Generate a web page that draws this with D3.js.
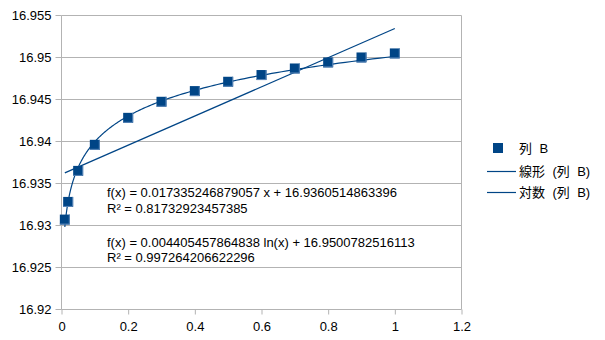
<!DOCTYPE html>
<html>
<head>
<meta charset="utf-8">
<script src="https://cdn.jsdelivr.net/npm/d3@7/dist/d3.min.js"></script>
<style>
  html, body { margin: 0; padding: 0; background: #fff; }
  svg { display: block; }
  text { font-family: "Liberation Sans", Arial, sans-serif; fill: #000; }
  .cjk { font-family: "Liberation Sans", "Noto Sans CJK JP", sans-serif; word-spacing: 3.8px; }
</style>
</head>
<body>
<svg id="chart" width="605" height="340"></svg>
<script>
// Measured series (列 B)
const xValues = [0.01, 0.02, 0.05, 0.1, 0.2, 0.3, 0.4, 0.5, 0.6, 0.7, 0.8, 0.9, 1.0];
const yValues = [16.93067, 16.93277, 16.93646, 16.93956, 16.94277, 16.94468, 16.94595,
                 16.94706, 16.94786, 16.94864, 16.94936, 16.94995, 16.95043];

// Trend line coefficients (slope / factor, intercept)
const linearCoef = [0.017335246879057, 16.9360514863396];
const logCoef = [0.004405457864838, 16.9500782516113];

// Axis ticks
const xTicks = [0, 0.2, 0.4, 0.6, 0.8, 1, 1.2];
const yTicks = [16.92, 16.925, 16.93, 16.935, 16.94, 16.945, 16.95, 16.955];

// Text
const eqLabels = [
  "f(x) = 0.017335246879057 x + 16.9360514863396",
  "R² = 0.81732923457385",
  "f(x) = 0.004405457864838 ln(x) + 16.9500782516113",
  "R² = 0.997264206622296"
];
const legendLabels = ["列 B", "線形 (列 B)", "対数 (列 B)"];

const color = "#004586";
const gridColor = "#b3b3b3";

const svg = d3.select("#chart");
const plot = { left: 61.5, right: 461.5, top: 15, bottom: 309.3 };

const x = d3.scaleLinear().domain([0, 1.2]).range([plot.left, plot.right]);
const y = d3.scaleLinear().domain([16.92, 16.955]).range([plot.bottom, plot.top]);

// Horizontal grid lines with left tick marks
const yAxis = d3.axisLeft(y).tickValues(yTicks).tickSize(6).tickPadding(4)
  .tickFormat(d => d3.format("")(+d.toFixed(3)));
const gy = svg.append("g").attr("transform", `translate(${plot.left},0)`).call(yAxis);
gy.select(".domain").remove();
gy.selectAll(".tick line").attr("stroke", gridColor);
gy.selectAll(".tick text").style("font-size", "13px").attr("fill", "#000").attr("dy", "0.35em");

svg.append("g").selectAll("line").data(yTicks).join("line")
  .attr("x1", plot.left).attr("x2", plot.right)
  .attr("y1", d => Math.round(y(d)) + 0.5).attr("y2", d => Math.round(y(d)) + 0.5)
  .attr("stroke", gridColor).attr("stroke-width", 1);
gy.selectAll(".tick").attr("transform", d => `translate(0,${Math.round(y(d)) + 0.5})`);

// Bottom axis tick marks and labels
const xAxis = d3.axisBottom(x).tickValues(xTicks).tickSize(5).tickPadding(7)
  .tickFormat(d3.format(""));
const gx = svg.append("g").attr("transform", `translate(0,${Math.round(plot.bottom) + 0.5})`).call(xAxis);
gx.select(".domain").remove();
gx.selectAll(".tick line").attr("stroke", gridColor);
gx.selectAll(".tick text").style("font-size", "13px").attr("fill", "#000");

// Left and right borders of the plot area
[plot.left, plot.right].forEach(px => {
  svg.append("line")
    .attr("x1", px).attr("x2", px)
    .attr("y1", Math.round(y(16.955)) + 0.5).attr("y2", Math.round(plot.bottom) + 0.5)
    .attr("stroke", gridColor).attr("stroke-width", 1);
});

// Trend lines over the data range
const xMin = d3.min(xValues), xMax = d3.max(xValues);
const samples = d3.range(0, 201).map(i => xMin * Math.pow(xMax / xMin, i / 200));
const line = d3.line().x(d => x(d[0])).y(d => y(d[1]));

svg.append("path")
  .datum([[xMin, linearCoef[0] * xMin + linearCoef[1]], [xMax, linearCoef[0] * xMax + linearCoef[1]]])
  .attr("d", line).attr("fill", "none").attr("stroke", color).attr("stroke-width", 1.2);

svg.append("path")
  .datum(samples.map(v => [v, logCoef[0] * Math.log(v) + logCoef[1]]))
  .attr("d", line).attr("fill", "none")
  .attr("stroke", color).attr("stroke-width", 1.2);

// Data markers
const ms = 10;
const pts = svg.append("g").selectAll("g").data(xValues.map((v, i) => [v, yValues[i]])).join("g");
pts.append("rect")
  .attr("x", d => x(d[0]) - ms / 2).attr("y", d => y(d[1]) - ms / 2)
  .attr("width", ms).attr("height", ms).attr("fill", color);
pts.append("path")
  .attr("d", d => {
    const cx = x(d[0]), cy = y(d[1]);
    return `M${cx - ms / 2},${cy + ms / 2 - 0.5}H${cx + ms / 2 - 0.5}V${cy - ms / 2}`;
  })
  .attr("fill", "none").attr("stroke", "#5a86b8").attr("stroke-width", 1);

// Regression equations
const eqPos = [[107, 197.3], [107, 212.7], [107, 246.7], [107, 262.3]];
svg.append("g").selectAll("text").data(eqLabels).join("text")
  .attr("x", (d, i) => eqPos[i][0]).attr("y", (d, i) => eqPos[i][1])
  .style("font-size", "13px").text(d => d);

// Legend
const lg = svg.append("g");
lg.append("rect").attr("x", 493).attr("y", 143).attr("width", 10).attr("height", 10).attr("fill", color);
[171.5, 192.5].forEach(ly => {
  lg.append("line").attr("x1", 487).attr("x2", 516).attr("y1", ly).attr("y2", ly)
    .attr("stroke", color).attr("stroke-width", 1.2);
});
lg.selectAll("text").data(legendLabels).join("text")
  .attr("class", "cjk")
  .attr("x", 519).attr("y", (d, i) => [148, 171.5, 192.5][i])
  .attr("dy", "0.35em").style("font-size", "13px")
  .text(d => d);
</script>
</body>
</html>
